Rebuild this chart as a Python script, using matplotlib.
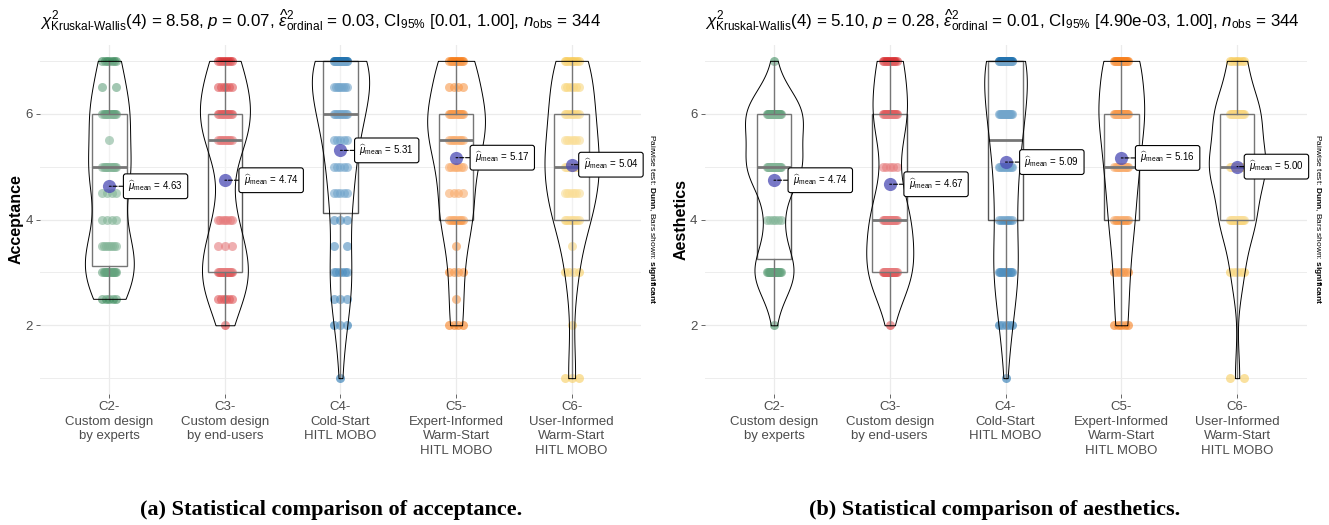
import numpy as np
import matplotlib
matplotlib.use('Agg')
import matplotlib.pyplot as plt
from matplotlib.patches import Rectangle

plt.rcParams['font.family'] = ['Liberation Sans', 'DejaVu Sans']
plt.rcParams['mathtext.fontset'] = 'custom'
plt.rcParams['mathtext.rm'] = 'Liberation Sans'
plt.rcParams['mathtext.it'] = 'Liberation Sans:italic'
plt.rcParams['mathtext.bf'] = 'Liberation Sans:bold'

# ---- data ----
conditions = ['C2-\nCustom design\nby experts',
              'C3-\nCustom design\nby end-users',
              'C4-\nCold-Start\nHITL MOBO',
              'C5-\nExpert-Informed\nWarm-Start\nHITL MOBO',
              'C6-\nUser-Informed\nWarm-Start\nHITL MOBO']
colors = ['#3F8D5F', '#D93335', '#2474B0', '#F7801E', '#F8CD5E']

# acceptance: number of ratings at each level, per condition
acc_levels = [1, 1.5, 2, 2.5, 3, 3.5, 4, 4.5, 5, 5.5, 6, 6.5, 7]
acc_c2 = [0, 0, 0, 5, 13, 8, 4, 4, 13, 1, 13, 2, 7]
acc_c3 = [0, 0, 1, 6, 15, 3, 7, 0, 0, 10, 12, 6, 8]
acc_c4 = [1, 0, 3, 3, 6, 2, 3, 5, 5, 5, 10, 8, 19]
acc_c5 = [0, 0, 4, 1, 4, 1, 9, 4, 7, 9, 14, 4, 11]
acc_c6 = [3, 0, 1, 0, 4, 1, 9, 7, 12, 7, 9, 6, 9]

# aesthetics
aes_levels = [1, 2, 3, 4, 5, 6, 7]
aes_c2 = [0, 1, 17, 6, 22, 23, 1]
aes_c3 = [0, 1, 20, 17, 5, 15, 11]
aes_c4 = [1, 5, 11, 8, 10, 15, 20]
aes_c5 = [0, 5, 6, 10, 13, 18, 15]
aes_c6 = [2, 0, 5, 14, 22, 18, 7]

acc_stats = ['4', '8.58', '0.07', '0.03', '[0.01, 1.00]', '344']
aes_stats = ['4', '5.10', '0.28', '0.01', '[4.90e-03, 1.00]', '344']


def expand(levels, counts):
    return np.repeat(np.array(levels, float), counts)


def nrd0(x):
    sd = x.std(ddof=1)
    q75, q25 = np.percentile(x, [75, 25])
    lo = min(sd, (q75 - q25) / 1.34)
    if lo == 0:
        lo = sd
    return 0.9 * lo * len(x) ** -0.2


def density(x, grid):
    bw = nrd0(x)
    z = (grid[:, None] - x[None, :]) / bw
    return np.exp(-0.5 * z ** 2).sum(1) / (len(x) * bw * np.sqrt(2 * np.pi))


def make_title(s):
    return (r'$\chi^2_{\mathrm{Kruskal‐Wallis}}$(' + s[0] + ') = ' + s[1] +
            r', $\mathit{p}$ = ' + s[2] +
            r', $\widehat{\varepsilon}^2_{\mathrm{ordinal}}$ = ' + s[3] +
            r', CI$_{\mathrm{95\%}}$ ' + s[4] +
            r', $\mathit{n}_{\mathrm{obs}}$ = ' + s[5])


def panel(ax, levels, groups, ylabel, stats):
    data = [expand(levels, g) for g in groups]
    grids = [np.linspace(d.min(), d.max(), 512) for d in data]
    dens = [density(d, g) for d, g in zip(data, grids)]
    dmax = max(d.max() for d in dens)

    for i, (d, col) in enumerate(zip(data, colors), start=1):
        # jittered points
        for lv in np.unique(d):
            k = int((d == lv).sum())
            off = np.linspace(-0.06, 0.06, k) if k > 1 else np.zeros(1)
            ax.scatter(i + off, np.full(k, lv), s=42, color=col, alpha=0.6,
                       lw=0, zorder=2)

        q1, med, q3 = np.percentile(d, [25, 50, 75])
        iqr = q3 - q1
        lo = d[d >= q1 - 1.5 * iqr].min()
        hi = d[d <= q3 + 1.5 * iqr].max()
        ax.plot([i, i], [q3, hi], color='#555555', lw=1.0, zorder=3)
        ax.plot([i, i], [lo, q1], color='#555555', lw=1.0, zorder=3)
        ax.add_patch(Rectangle((i - 0.15, q1), 0.3, q3 - q1,
                               facecolor=(1, 1, 1, 0.2), edgecolor='#555555',
                               lw=1.0, zorder=3))
        ax.plot([i - 0.15, i + 0.15], [med, med], color='#555555', lw=2,
                zorder=3, solid_capstyle='butt')

        hw = 0.25 * dens[i - 1] / dmax
        ax.fill_betweenx(grids[i - 1], i - hw, i + hw, facecolor=(1, 1, 1, 0.2),
                         edgecolor='black', lw=0.7, zorder=4)

        m = d.mean()
        ax.scatter([i], [m], s=90, color='#4B4BB5', alpha=0.75, lw=0, zorder=5)
        ax.annotate(r'$\widehat{\mu}_{\mathrm{mean}}$ = %.2f' % m,
                    xy=(i, m), xytext=(min(i + 0.4, 5.34), m),
                    ha='center', va='center', fontsize=7, zorder=6,
                    bbox=dict(boxstyle='round,pad=0.5,rounding_size=0.25',
                              fc='white', ec='black', lw=0.8),
                    arrowprops=dict(arrowstyle='-', linestyle='--',
                                    color='black', lw=0.8, shrinkA=0,
                                    shrinkB=0))

    ax.set_xlim(0.4, 5.6)
    ax.set_ylim(0.7, 7.3)
    ax.set_xticks(range(1, 6))
    ax.set_xticklabels(conditions, fontsize=9.5, color='#4D4D4D',
                       linespacing=1.3)
    ax.set_yticks([2, 4, 6])
    ax.set_yticklabels(['2', '4', '6'], fontsize=9.5, color='#4D4D4D')
    ax.set_yticks([1, 3, 5, 7], minor=True)
    ax.tick_params(which='major', length=3, width=0.6, color='#4D4D4D', pad=2)
    ax.tick_params(which='minor', length=0)
    ax.grid(which='major', color='#EBEBEB', lw=0.9)
    ax.grid(which='minor', axis='y', color='#EDEDED', lw=0.7)
    ax.set_axisbelow(True)
    for sp in ax.spines.values():
        sp.set_visible(False)

    ax.set_ylabel(ylabel, fontsize=11.5, fontweight='bold')
    ax.yaxis.set_label_coords(-0.027, 0.5)
    ax.annotate(make_title(stats), xy=(0, 1), xycoords='axes fraction',
                xytext=(0, 13), textcoords='offset points', ha='left',
                va='baseline', fontsize=12.2)
    ax.text(1.018, 0.5,
            r'Pairwise test: $\mathbf{Dunn}$, Bars shown: $\mathbf{significant}$',
            rotation=270, ha='center', va='center', fontsize=6,
            transform=ax.transAxes)


fig = plt.figure(figsize=(13.29, 5.25), dpi=100)
ax1 = fig.add_axes([0.0301, 0.2495, 0.4522, 0.6648])
ax2 = fig.add_axes([0.5301, 0.2495, 0.4530, 0.6648])

panel(ax1, acc_levels, [acc_c2, acc_c3, acc_c4, acc_c5, acc_c6],
      'Acceptance', acc_stats)
panel(ax2, aes_levels, [aes_c2, aes_c3, aes_c4, aes_c5, aes_c6],
      'Aesthetics', aes_stats)

fig.text(331 / 1329, 1 - 510 / 525, '(a) Statistical comparison of acceptance.',
         ha='center', va='center', fontsize=16, fontweight='bold',
         family='Liberation Serif')
fig.text(995 / 1329, 1 - 510 / 525, '(b) Statistical comparison of aesthetics.',
         ha='center', va='center', fontsize=16, fontweight='bold',
         family='Liberation Serif')

fig.savefig('out.png', dpi=100)
